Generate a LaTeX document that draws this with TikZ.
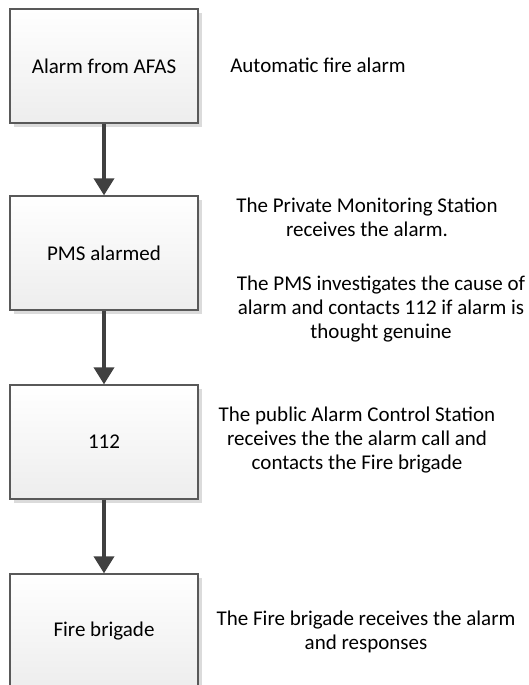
\documentclass[tikz,border=0pt]{standalone}
\usepackage{fontspec}
\setmainfont{Carlito}
\usepackage{tikz}
\usetikzlibrary{arrows.meta,shadows}

\begin{document}
\begin{tikzpicture}[
font=\fontsize{10.5}{11.8}\selectfont,
x=0.5pt,y=-0.5pt,
stage/.style={draw=black!65, line width=0.65pt, rectangle, minimum width=94pt, minimum height=57pt, align=center,
  top color=white, bottom color=black!7,
  drop shadow={shadow xshift=2pt, shadow yshift=-2pt, fill=black!14, opacity=1}},
note/.style={align=center, inner sep=0pt},
arr/.style={-{Triangle[length=8.5pt,width=10pt]}, line width=1.8pt, black!75}
]
\useasboundingbox (0,0) rectangle (529,685);
\foreach \i/\y/\lbl in {0/66/Alarm from AFAS,1/253/PMS alarmed,2/442/112,3/631/Fire brigade} {\node[stage] (st\i) at (104,\y) {\lbl};}
\node[note] (nt0) at (318,65) {Automatic fire alarm};
\node[note] (nt1) at (367,217) {The Private Monitoring Station\\receives the alarm.};
\node[note] (nt2) at (381,309) {The PMS investigates the cause of\\alarm and contacts 112 if alarm is\\thought genuine};
\node[note] (nt3) at (357,440) {The public Alarm Control Station\\receives the the alarm call and\\contacts the Fire brigade};
\node[note] (nt4) at (366,632) {The Fire brigade receives the alarm\\and responses};
\draw[arr] (st0) -- (st1);
\draw[arr] (st1) -- (st2);
\draw[arr] (st2) -- (st3);
\end{tikzpicture}
\end{document}
